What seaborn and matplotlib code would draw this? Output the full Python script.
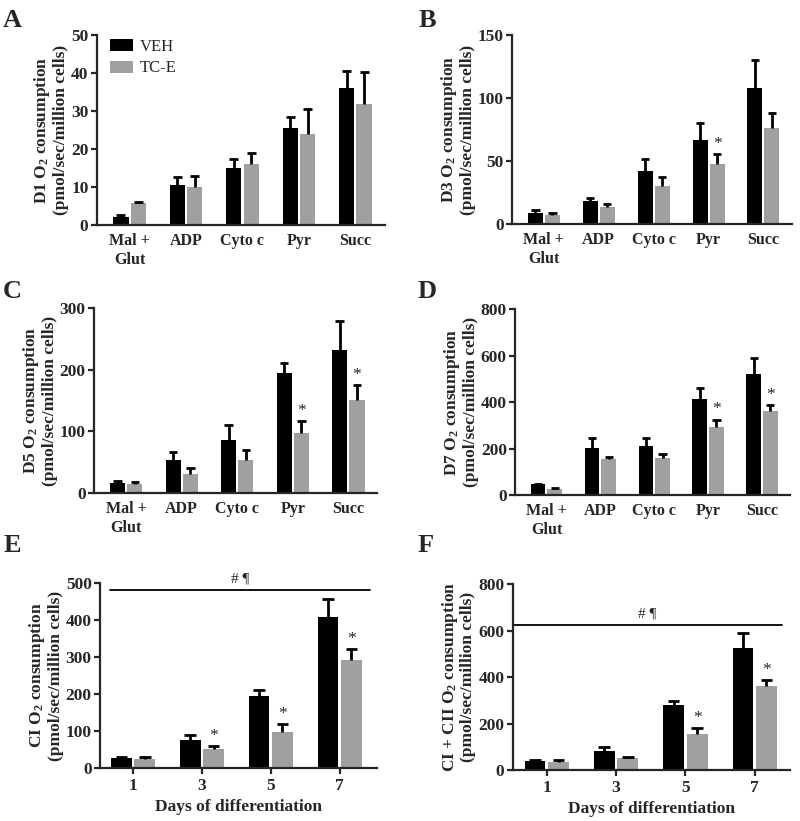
import numpy as np
import pandas as pd
import matplotlib
matplotlib.use("Agg")
import matplotlib.pyplot as plt
import matplotlib.transforms as mtrans
import seaborn as sns
from matplotlib.patches import Patch

sns.set_style("ticks")
plt.rcParams['font.family'] = ['Liberation Serif', 'DejaVu Serif']
plt.rcParams['font.weight'] = 'bold'
plt.rcParams['axes.labelweight'] = 'bold'
plt.rcParams['mathtext.default'] = 'regular'

substrates = ["Mal +\nGlut", "ADP", "Cyto c", "Pyr", "Succ"]
days = ["1", "3", "5", "7"]
groups = ["VEH", "TC-E"]

# Panel A (D1)
a_veh = [2.2, 10.5, 15.0, 25.5, 36.0]
a_veh_sem = [0.5, 2.2, 2.3, 3.0, 4.7]
a_tce = [5.7, 10.0, 16.0, 24.0, 32.0]
a_tce_sem = [0.4, 3.0, 3.0, 6.7, 8.3]
a_star = []
# Panel B (D3)
b_veh = [8.5, 18.3, 42.0, 67.0, 108.0]
b_veh_sem = [2.5, 2.7, 10.0, 13.0, 22.0]
b_tce = [7.0, 14.0, 30.0, 47.5, 76.0]
b_tce_sem = [2.0, 2.0, 7.5, 8.0, 12.5]
b_star = ["Pyr"]
# Panel C (D5)
c_veh = [17.0, 54.0, 86.0, 194.0, 231.0]
c_veh_sem = [3.0, 12.0, 24.0, 17.0, 47.0]
c_tce = [15.0, 31.0, 54.0, 97.0, 151.0]
c_tce_sem = [3.0, 9.0, 16.0, 20.0, 24.0]
c_star = ["Pyr", "Succ"]
# Panel D (D7)
d_veh = [46.0, 204.0, 213.0, 412.0, 522.0]
d_veh_sem = [2.0, 42.0, 33.0, 47.0, 66.0]
d_tce = [27.0, 155.0, 160.0, 294.0, 360.0]
d_tce_sem = [3.0, 8.0, 15.0, 30.0, 28.0]
d_star = ["Pyr", "Succ"]
# Panel E (CI)
e_veh = [28.0, 75.0, 195.0, 409.0]
e_veh_sem = [1.0, 13.0, 17.0, 48.0]
e_tce = [25.0, 51.0, 98.0, 292.0]
e_tce_sem = [5.0, 8.0, 20.0, 30.0]
e_star = ["3", "5", "7"]
# Panel F (CI + CII)
f_veh = [40.0, 82.0, 280.0, 526.0]
f_veh_sem = [3.0, 17.0, 18.0, 62.0]
f_tce = [36.0, 54.0, 155.0, 360.0]
f_tce_sem = [6.0, 3.0, 24.0, 28.0]
f_star = ["5", "7"]

colors = {"VEH": "#000000", "TC-E": "#a0a0a0"}

fig = plt.figure(figsize=(8, 8.21), dpi=100)

panels = [
    dict(letter="A", rect=[0.121, 0.726, 0.360, 0.231], cats=substrates, veh=a_veh, vs=a_veh_sem, tce=a_tce, ts=a_tce_sem,
         star=a_star, ymax=50, ticks=[0, 10, 20, 30, 40, 50], ylab="D1 O$_2$ consumption\n(pmol/sec/million cells)",
         lpos=(0.004, 0.975), xlim=(-0.58, 4.52), xlabel=None, bracket=None, width=0.62),
    dict(letter="B", rect=[0.640, 0.727, 0.350, 0.230], cats=substrates, veh=b_veh, vs=b_veh_sem, tce=b_tce, ts=b_tce_sem,
         star=b_star, ymax=150, ticks=[0, 50, 100, 150], ylab="D3 O$_2$ consumption\n(pmol/sec/million cells)",
         lpos=(0.523, 0.975), xlim=(-0.58, 4.52), xlabel=None, bracket=None, width=0.62),
    dict(letter="C", rect=[0.1175, 0.3995, 0.354, 0.2255], cats=substrates, veh=c_veh, vs=c_veh_sem, tce=c_tce, ts=c_tce_sem,
         star=c_star, ymax=300, ticks=[0, 100, 200, 300], ylab="D5 O$_2$ consumption\n(pmol/sec/million cells)",
         lpos=(0.004, 0.645), xlim=(-0.58, 4.52), xlabel=None, bracket=None, width=0.62),
    dict(letter="D", rect=[0.644, 0.397, 0.3435, 0.2266], cats=substrates, veh=d_veh, vs=d_veh_sem, tce=d_tce, ts=d_tce_sem,
         star=d_star, ymax=800, ticks=[0, 200, 400, 600, 800], ylab="D7 O$_2$ consumption\n(pmol/sec/million cells)",
         lpos=(0.522, 0.645), xlim=(-0.58, 4.52), xlabel=None, bracket=None, width=0.62),
    dict(letter="E", rect=[0.125, 0.0646, 0.346, 0.2253], cats=days, veh=e_veh, vs=e_veh_sem, tce=e_tce, ts=e_tce_sem,
         star=e_star, ymax=500, ticks=[0, 100, 200, 300, 400, 500], ylab="CI O$_2$ consumption\n(pmol/sec/million cells)",
         lpos=(0.004, 0.335), xlim=(-0.48, 3.54), xlabel="Days of differentiation", bracket=(482, 0.036, 0.975), width=0.68),
    dict(letter="F", rect=[0.641, 0.062, 0.3465, 0.2267], cats=days, veh=f_veh, vs=f_veh_sem, tce=f_tce, ts=f_tce_sem,
         star=f_star, ymax=800, ticks=[0, 200, 400, 600, 800], ylab="CI + CII O$_2$ consumption\n(pmol/sec/million cells)",
         lpos=(0.522, 0.335), xlim=(-0.49, 3.51), xlabel="Days of differentiation", bracket=(624, 0.0, 0.97), width=0.68),
]

for p in panels:
    ax = fig.add_axes(p["rect"])
    n = len(p["cats"])
    df = pd.DataFrame({
        "cat": list(p["cats"]) * 2,
        "group": ["VEH"] * n + ["TC-E"] * n,
        "val": list(p["veh"]) + list(p["tce"]),
        "sem": list(p["vs"]) + list(p["ts"]),
    })
    sns.barplot(data=df, x="cat", y="val", hue="group", order=p["cats"], hue_order=groups,
                palette=colors, errorbar=None, width=p["width"], gap=0.12, legend=False,
                saturation=1, linewidth=0, ax=ax)
    for gi, g in enumerate(groups):
        cont = ax.containers[gi]
        sems = df[df.group == g]["sem"].values
        for cat, bar, s in zip(p["cats"], cont, sems):
            x = bar.get_x() + bar.get_width() / 2
            h = bar.get_height()
            cw = bar.get_width() * 0.28
            ax.plot([x, x], [h, h + s], color="black", lw=2.0, solid_capstyle="butt", zorder=3)
            ax.plot([x - cw, x + cw], [h + s, h + s], color="black", lw=2.0, solid_capstyle="butt", zorder=3)
            if g == "TC-E" and cat in p["star"]:
                ax.text(x, h + s + p["ymax"] * 0.012, "*", ha="center", va="bottom",
                        fontsize=12.5, fontweight="normal")
    ax.set_ylim(0, p["ymax"])
    ax.set_xlim(*p["xlim"])
    ax.set_yticks(p["ticks"])
    ax.set_ylabel(p["ylab"], fontsize=12.5, fontweight="bold", linespacing=1.05, labelpad=1.5)
    sns.despine(ax=ax)
    for sp in ["left", "bottom"]:
        ax.spines[sp].set_linewidth(1.6)
    ax.tick_params(axis="y", width=1.6, length=4, labelsize=12.5, pad=2)
    if p["xlabel"]:
        ax.set_xlabel(p["xlabel"], fontsize=12.5, fontweight="bold", labelpad=4)
        ax.tick_params(axis="x", width=1.6, length=4, labelsize=12.5, pad=3)
    else:
        ax.set_xlabel("")
        ax.tick_params(axis="x", length=0, labelsize=11.5, pad=6)
    for lab in ax.get_xticklabels() + ax.get_yticklabels():
        lab.set_fontweight("bold")
    if p["bracket"]:
        yb, x0, x1 = p["bracket"]
        ax.axhline(yb, xmin=x0, xmax=x1, color="black", lw=1.3, clip_on=False)
        ax.text((x0 + x1) / 2, yb + p["ymax"] * 0.025, "# \u00b6",
                transform=mtrans.blended_transform_factory(ax.transAxes, ax.transData),
                ha="center", va="bottom", fontsize=11, fontweight="normal", clip_on=False)
    if p["letter"] == "A":
        handles = [Patch(facecolor=colors[g], edgecolor="none", label=g) for g in groups]
        ax.legend(handles=handles, loc="upper left", bbox_to_anchor=(0.035, 1.0), frameon=False,
                  prop={"family": "Liberation Serif", "weight": "normal", "size": 12},
                  handlelength=1.35, handleheight=0.75, handletextpad=0.4, labelspacing=0.35,
                  borderaxespad=0.0, borderpad=0.2)
    fig.text(p["lpos"][0], p["lpos"][1], p["letter"], fontsize=19, fontweight="bold", ha="left", va="center")

fig.savefig("out.png", dpi=100)
